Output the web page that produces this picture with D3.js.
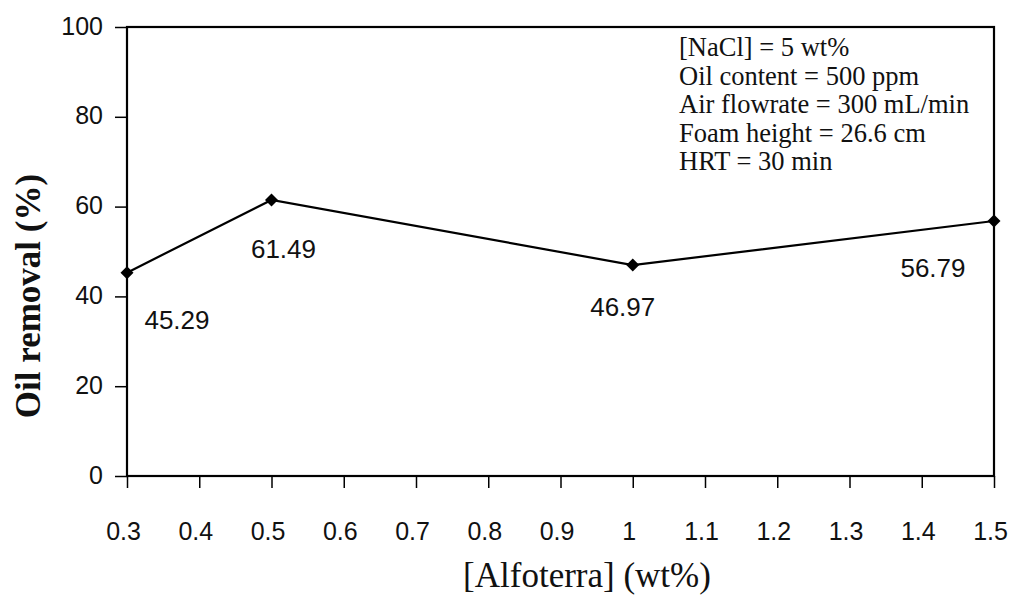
<!DOCTYPE html>
<html>
<head>
<meta charset="utf-8">
<script src="https://cdn.jsdelivr.net/npm/d3@7"></script>
<style>
  html, body { margin: 0; padding: 0; background: #fff; }
  svg { display: block; }
</style>
</head>
<body>
<svg id="chart" width="1011" height="602"></svg>
<script>
// ---- data ----
const alfoterra = [0.3, 0.5, 1.0, 1.5];
const oilRemoval = [45.29, 61.49, 46.97, 56.79];
const valueLabels = ["45.29", "61.49", "46.97", "56.79"];
const xTickValues = [0.3, 0.4, 0.5, 0.6, 0.7, 0.8, 0.9, 1.0, 1.1, 1.2, 1.3, 1.4, 1.5];
const xTickLabels = ["0.3", "0.4", "0.5", "0.6", "0.7", "0.8", "0.9", "1", "1.1", "1.2", "1.3", "1.4", "1.5"];
const yTickValues = [0, 20, 40, 60, 80, 100];
const conditions = [
  "[NaCl] = 5 wt%",
  "Oil content = 500 ppm",
  "Air flowrate = 300 mL/min",
  "Foam height = 26.6 cm",
  "HRT = 30 min"
];
const xTitle = "[Alfoterra] (wt%)";
const yTitle = "Oil removal (%)";

// ---- layout (not data) ----
const labelOffsets = [[50, 47], [12, 49], [-10, 42], [-61, 47]];
const margin = { left: 127, top: 27, right: 17, bottom: 126 };
const W = 1011, H = 602;
const sans = "Arial, 'Liberation Sans', sans-serif";
const serif = "'Times New Roman', 'Liberation Serif', serif";

const svg = d3.select("#chart");
const x = d3.scaleLinear().domain([0.3, 1.5]).range([margin.left, W - margin.right]);
const y = d3.scaleLinear().domain([0, 100]).range([H - margin.bottom, margin.top]);

// frame
svg.append("rect")
  .attr("x", x(0.3)).attr("y", y(100))
  .attr("width", x(1.5) - x(0.3)).attr("height", y(0) - y(100))
  .attr("fill", "none").attr("stroke", "#000").attr("stroke-width", 2.2);

// y axis
const yAxis = svg.append("g")
  .attr("transform", `translate(${x(0.3)},0)`)
  .call(d3.axisLeft(y).tickValues(yTickValues).tickSize(12).tickPadding(12).tickFormat(d3.format("d")));
yAxis.select(".domain").remove();
yAxis.selectAll(".tick line").attr("stroke", "#000").attr("stroke-width", 1.5);
yAxis.selectAll(".tick text")
  .attr("font-family", sans).attr("font-size", 25).attr("fill", "#111")
  .attr("dy", "0.28em");

// x axis
const xAxis = svg.append("g")
  .attr("transform", `translate(0,${y(0)})`)
  .call(d3.axisBottom(x).tickValues(xTickValues).tickSize(12).tickPadding(34)
    .tickFormat((d, i) => xTickLabels[i]));
xAxis.select(".domain").remove();
xAxis.selectAll(".tick line").attr("stroke", "#000").attr("stroke-width", 1.5);
xAxis.selectAll(".tick text")
  .attr("font-family", sans).attr("font-size", 25).attr("fill", "#111")
  .attr("dx", -4);

// line
const pts = alfoterra.map((a, i) => [a, oilRemoval[i]]);
svg.append("path")
  .datum(pts)
  .attr("fill", "none").attr("stroke", "#000").attr("stroke-width", 2.2)
  .attr("d", d3.line().x(d => x(d[0])).y(d => y(d[1])));

// markers
svg.selectAll(".mk").data(pts).enter().append("path")
  .attr("class", "mk")
  .attr("d", d3.symbol(d3.symbolSquare, 85)())
  .attr("transform", d => `translate(${x(d[0])},${y(d[1])}) rotate(45)`)
  .attr("fill", "#000");

// value labels
svg.selectAll(".vl").data(pts).enter().append("text")
  .attr("class", "vl")
  .attr("x", (d, i) => x(d[0]) + labelOffsets[i][0])
  .attr("y", (d, i) => y(d[1]) + labelOffsets[i][1])
  .attr("dy", "0.36em")
  .attr("text-anchor", "middle")
  .attr("font-family", sans).attr("font-size", 26).attr("fill", "#111")
  .text((d, i) => valueLabels[i]);

// conditions text
const cond = svg.append("text")
  .attr("font-family", serif).attr("font-size", 26.5).attr("fill", "#111");
conditions.forEach((c, i) => {
  cond.append("tspan").attr("x", 679).attr("y", 56 + i * 28.5).text(c);
});

// axis titles
svg.append("text")
  .attr("x", 587).attr("y", 587)
  .attr("text-anchor", "middle")
  .attr("font-family", serif).attr("font-size", 35).attr("fill", "#111")
  .text(xTitle);

svg.append("text")
  .attr("transform", "translate(28,296) rotate(-90)")
  .attr("dy", "0.35em")
  .attr("text-anchor", "middle")
  .attr("font-family", serif).attr("font-weight", "bold").attr("font-size", 35).attr("fill", "#111")
  .text(yTitle);
</script>
</body>
</html>
